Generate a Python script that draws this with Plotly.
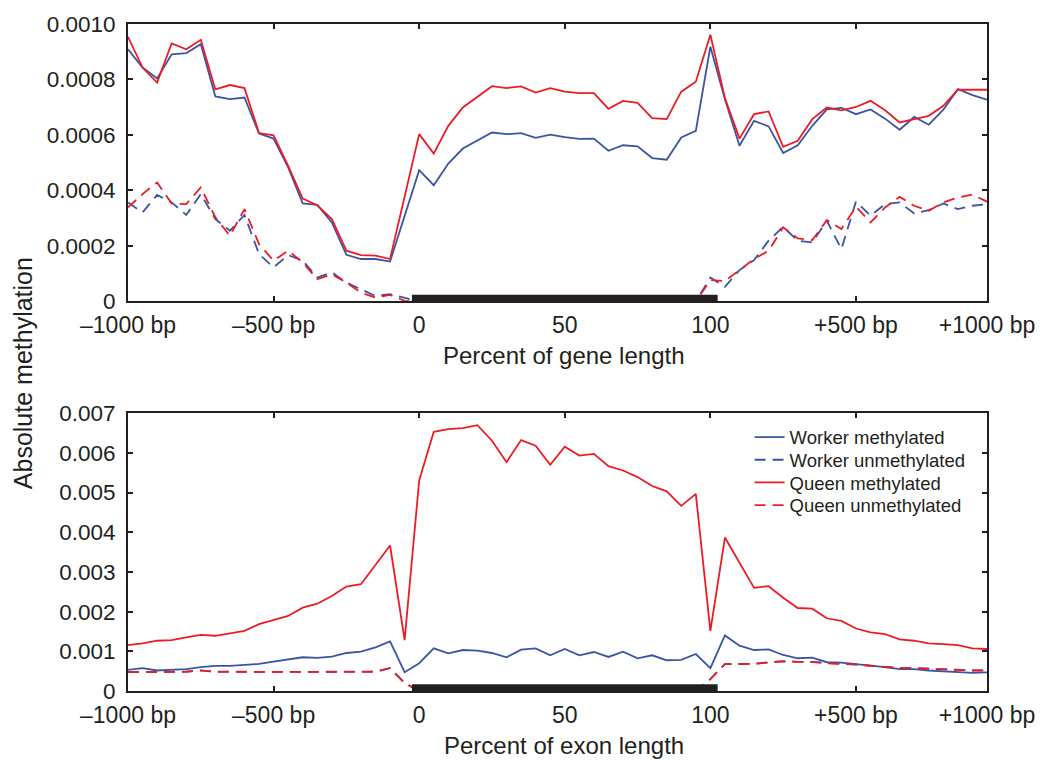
import plotly.graph_objects as go

# ---------------- data ----------------
upstream_bp = [-1000, -950, -900, -850, -800, -750, -700, -650, -600, -550,
               -500, -450, -400, -350, -300, -250, -200, -150, -100, -50]
gene_pct = [0, 5, 10, 15, 20, 25, 30, 35, 40, 45, 50, 55, 60, 65, 70, 75, 80, 85, 90, 95, 100]
downstream_bp = [50, 100, 150, 200, 250, 300, 350, 400, 450, 500,
                 550, 600, 650, 700, 750, 800, 850, 900, 950]

tick_labels = ["\u20131000 bp", "\u2013500 bp", "0", "50", "100", "+500 bp", "+1000 bp"]

# Gene panel
gene_worker_meth = [
    0.000909, 0.000843, 0.000804, 0.000891, 0.000895, 0.000927, 0.000739, 0.000729, 0.000735, 0.000605,
    0.000587, 0.000483, 0.000353, 0.000348, 0.000285, 0.000168, 0.000153, 0.000153, 0.000144, 0.000310,
    0.000473, 0.000419, 0.000497, 0.000551, 0.000579, 0.000609, 0.000603, 0.000607, 0.000590, 0.000601,
    0.000592, 0.000586, 0.000587, 0.000543, 0.000563, 0.000559, 0.000517, 0.000511, 0.000591, 0.000615, 0.000918,
    0.000729, 0.000561, 0.000651, 0.000631, 0.000535, 0.000563, 0.000633, 0.000692, 0.000698, 0.000675,
    0.000692, 0.000659, 0.000619, 0.000665, 0.000637, 0.000691, 0.000765, 0.000744, 0.000727]
gene_worker_unmeth = [
    0.000357, 0.000321, 0.000384, 0.000357, 0.000312, 0.000387, 0.000297, 0.000255, 0.000312, 0.000171,
    0.000123, 0.000167, 0.000147, 0.000086, 0.000105, 0.000068, 0.000044, 0.000020, 0.000026, 0.000012,
    0, 0, 0, 0, 0, 0, 0, 0, 0, 0, 0, 0, 0, 0, 0, 0, 0, 0, 0, 0, 0.000086,
    0.000053, 0.000113, 0.000149, 0.000219, 0.000269, 0.000219, 0.000213, 0.000291, 0.000189, 0.000360,
    0.000309, 0.000351, 0.000357, 0.000317, 0.000329, 0.000353, 0.000333, 0.000345, 0.000351]
gene_queen_meth = [
    0.000954, 0.000843, 0.000789, 0.000930, 0.000909, 0.000943, 0.000764, 0.000780, 0.000769, 0.000607,
    0.000599, 0.000489, 0.000371, 0.000347, 0.000297, 0.000183, 0.000167, 0.000165, 0.000153, 0.000380,
    0.000603, 0.000533, 0.000633, 0.000699, 0.000738, 0.000776, 0.000769, 0.000775, 0.000753, 0.000769,
    0.000756, 0.000751, 0.000751, 0.000694, 0.000723, 0.000716, 0.000661, 0.000657, 0.000756, 0.000792, 0.000961,
    0.000733, 0.000587, 0.000675, 0.000685, 0.000557, 0.000579, 0.000657, 0.000699, 0.000689, 0.000701,
    0.000723, 0.000689, 0.000645, 0.000657, 0.000669, 0.000705, 0.000763, 0.000763, 0.000763]
gene_queen_unmeth = [
    0.000339, 0.000387, 0.000429, 0.000353, 0.000351, 0.000411, 0.000303, 0.000237, 0.000333, 0.000207,
    0.000147, 0.000183, 0.000141, 0.000080, 0.000098, 0.000068, 0.000032, 0.000014, 0.000024, 0.000002,
    0, 0, 0, 0, 0, 0, 0, 0, 0, 0, 0, 0, 0, 0, 0, 0, 0, 0, 0, 0, 0.000077,
    0.000074, 0.000113, 0.000153, 0.000183, 0.000267, 0.000227, 0.000221, 0.000293, 0.000261, 0.000341,
    0.000285, 0.000339, 0.000377, 0.000345, 0.000327, 0.000357, 0.000375, 0.000385, 0.000360]

# Exon panel
exon_worker_meth = [
    0.000533, 0.000575, 0.000517, 0.000542, 0.000550, 0.000600, 0.000633, 0.000633, 0.000650, 0.000683,
    0.000742, 0.000800, 0.000850, 0.000833, 0.000867, 0.000958, 0.000992, 0.001100, 0.001250, 0.000475,
    0.000700, 0.001075, 0.000950, 0.001033, 0.001017, 0.000958, 0.000850, 0.001042, 0.001075, 0.000900,
    0.001058, 0.000900, 0.000983, 0.000858, 0.000992, 0.000825, 0.000900, 0.000775, 0.000783, 0.000933, 0.000575,
    0.001400, 0.001142, 0.001033, 0.001050, 0.000908, 0.000825, 0.000842, 0.000725, 0.000717, 0.000683,
    0.000633, 0.000600, 0.000550, 0.000550, 0.000517, 0.000500, 0.000483, 0.000458, 0.000467]
exon_worker_unmeth = [
    0.000480, 0.000475, 0.000478, 0.000482, 0.000488, 0.000515, 0.000488, 0.000482, 0.000488, 0.000488,
    0.000482, 0.000482, 0.000482, 0.000478, 0.000482, 0.000488, 0.000475, 0.000488, 0.000575, 0.000200,
    0, 0, 0, 0, 0, 0, 0, 0, 0, 0, 0, 0, 0, 0, 0, 0, 0, 0, 0, 0, 0.000300,
    0.000675, 0.000680, 0.000685, 0.000720, 0.000745, 0.000735, 0.000730, 0.000705, 0.000692, 0.000670,
    0.000638, 0.000612, 0.000580, 0.000578, 0.000562, 0.000545, 0.000538, 0.000520, 0.000522]
exon_queen_meth = [
    0.001158, 0.001200, 0.001267, 0.001283, 0.001350, 0.001417, 0.001392, 0.001450, 0.001517, 0.001683,
    0.001783, 0.001892, 0.002100, 0.002200, 0.002392, 0.002633, 0.002692, 0.003183, 0.003667, 0.001283,
    0.005308, 0.006533, 0.006600, 0.006625, 0.006700, 0.006308, 0.005767, 0.006325, 0.006183, 0.005700,
    0.006158, 0.005933, 0.005975, 0.005667, 0.005558, 0.005392, 0.005167, 0.005033, 0.004667, 0.004967, 0.001517,
    0.003867, 0.003242, 0.002600, 0.002642, 0.002350, 0.002092, 0.002075, 0.001833, 0.001767, 0.001575,
    0.001475, 0.001433, 0.001300, 0.001267, 0.001200, 0.001183, 0.001158, 0.001075, 0.001058]
exon_queen_unmeth = [
    0.000475, 0.000470, 0.000475, 0.000480, 0.000485, 0.000520, 0.000485, 0.000480, 0.000485, 0.000485,
    0.000480, 0.000480, 0.000480, 0.000475, 0.000480, 0.000485, 0.000470, 0.000485, 0.000580, 0.000200,
    0, 0, 0, 0, 0, 0, 0, 0, 0, 0, 0, 0, 0, 0, 0, 0, 0, 0, 0, 0, 0.000300,
    0.000683, 0.000683, 0.000683, 0.000725, 0.000750, 0.000733, 0.000733, 0.000700, 0.000690, 0.000667,
    0.000633, 0.000608, 0.000575, 0.000575, 0.000558, 0.000542, 0.000533, 0.000517, 0.000517]

gene_yticks = [0, 0.0002, 0.0004, 0.0006, 0.0008, 0.0010]
gene_yticktext = ["0", "0.0002", "0.0004", "0.0006", "0.0008", "0.0010"]
exon_yticks = [0, 0.001, 0.002, 0.003, 0.004, 0.005, 0.006, 0.007]
exon_yticktext = ["0", "0.001", "0.002", "0.003", "0.004", "0.005", "0.006", "0.007"]

# ---------------- position mapping (one bin = one unit) ----------------
def up_pos(bp):
    return (bp + 1000) / 50.0

def gene_pos(p):
    return 20 + p / 5.0

def down_pos(bp):
    return 40 + bp / 50.0

xpos = [up_pos(b) for b in upstream_bp] + [gene_pos(p) for p in gene_pct] + [down_pos(b) for b in downstream_bp]
tick_pos = [up_pos(-1000), up_pos(-500), gene_pos(0), gene_pos(50), gene_pos(100), down_pos(500), down_pos(950)]

BLUE = "#3a55a4"
RED = "#ed1c24"
INK = "#231f20"
FONT = "Liberation Sans, Arial, Helvetica, sans-serif"
DASH = "11px,7px"

series = [
    ("Worker methylated", BLUE, "solid", gene_worker_meth, exon_worker_meth, "legend"),
    ("Worker unmethylated", BLUE, DASH, gene_worker_unmeth, exon_worker_unmeth, "legend2"),
    ("Queen methylated", RED, "solid", gene_queen_meth, exon_queen_meth, "legend3"),
    ("Queen unmethylated", RED, DASH, gene_queen_unmeth, exon_queen_unmeth, "legend4"),
]

fig = go.Figure()
for name, col, dash, gvals, evals, lg in series:
    fig.add_trace(go.Scatter(x=xpos, y=gvals, mode="lines", name=name,
                             line=dict(color=col, width=1.8, dash=dash),
                             xaxis="x", yaxis="y", showlegend=True, legend=lg))
for name, col, dash, gvals, evals, lg in series:
    fig.add_trace(go.Scatter(x=xpos, y=evals, mode="lines", name=name,
                             line=dict(color=col, width=1.8, dash=dash),
                             xaxis="x2", yaxis="y2", showlegend=False))

xcommon = dict(range=[tick_pos[0], tick_pos[-1]], tickmode="array", tickvals=tick_pos,
               ticktext=tick_labels, ticks="inside", ticklen=5, tickwidth=1.5, tickcolor=INK,
               showline=True, linecolor=INK, linewidth=2, mirror="ticks", showgrid=False,
               zeroline=False, tickfont=dict(size=23, color=INK, family=FONT),
               ticklabelstandoff=2)
ycommon = dict(ticks="inside", ticklen=5, tickwidth=1.5, tickcolor=INK, showline=True,
               linecolor=INK, linewidth=2, mirror="ticks", showgrid=False, zeroline=False,
               tickfont=dict(size=22.5, color=INK, family=FONT), tickmode="array",
               ticklabelstandoff=6)

# legend rows (one legend per row so spacing follows the reference)
legend_rows_y = [0.380, 0.346, 0.312, 0.278]
def legend_box(yv):
    return dict(x=0.7236, y=yv, xanchor="left", yanchor="middle",
                bgcolor="rgba(0,0,0,0)", borderwidth=0,
                font=dict(size=18.5, color=INK, family=FONT))

fig.update_layout(
    width=1047, height=760,
    margin=dict(l=128, r=57, t=23, b=69),
    paper_bgcolor="white", plot_bgcolor="white",
    font=dict(family=FONT, color=INK),
    xaxis=dict(domain=[0, 1], anchor="y", **xcommon),
    yaxis=dict(domain=[0.584, 1], anchor="x", range=[0, 0.001],
               tickvals=gene_yticks, ticktext=gene_yticktext, **ycommon),
    xaxis2=dict(domain=[0, 1], anchor="y2", **xcommon),
    yaxis2=dict(domain=[0, 0.4164], anchor="x2", range=[0, 0.007],
                tickvals=exon_yticks, ticktext=exon_yticktext, **ycommon),
    legend=legend_box(legend_rows_y[0]),
    legend2=legend_box(legend_rows_y[1]),
    legend3=legend_box(legend_rows_y[2]),
    legend4=legend_box(legend_rows_y[3]),
    showlegend=True,
)

# gene / exon body bar
for xr, yr in [("x", "y domain"), ("x2", "y2 domain")]:
    fig.add_shape(type="rect", xref=xr, yref=yr,
                  x0=gene_pos(0) - 0.5, x1=gene_pos(100) + 0.5, y0=0, y1=0.024,
                  fillcolor=INK, line=dict(width=0), layer="above")

fig.add_annotation(text="Percent of gene length", xref="paper", yref="paper",
                   x=0.507, y=0.503, xanchor="center", yanchor="middle", showarrow=False,
                   font=dict(size=24, color=INK, family=FONT))
fig.add_annotation(text="Percent of exon length", xref="paper", yref="paper",
                   x=0.507, y=-0.081, xanchor="center", yanchor="middle", showarrow=False,
                   font=dict(size=24, color=INK, family=FONT))
fig.add_annotation(text="Absolute methylation", xref="paper", yref="paper",
                   x=-0.123, y=0.477, xanchor="center", yanchor="middle", showarrow=False,
                   textangle=-90, font=dict(size=25, color=INK, family=FONT))

fig.write_html("out.html")
